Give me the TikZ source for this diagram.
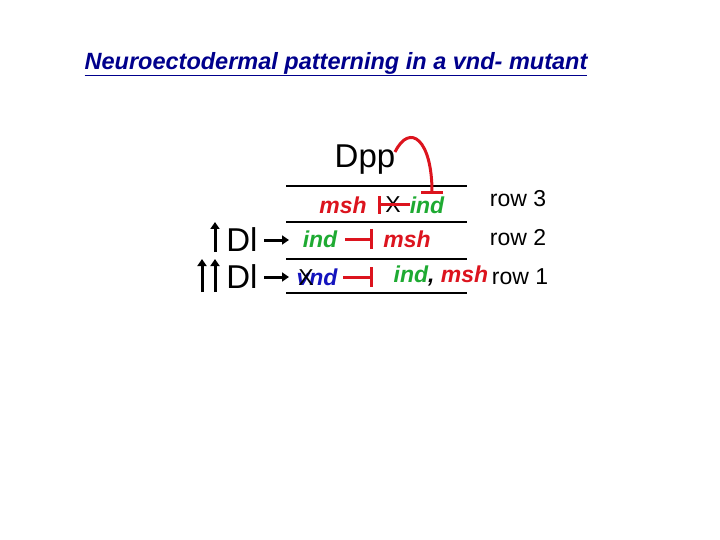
\documentclass[tikz,border=0pt]{standalone}
\usepackage{fontspec}
\setmainfont{Liberation Sans}
\usetikzlibrary{arrows.meta}
\definecolor{tblue}{RGB}{0,0,140}
\definecolor{gr}{RGB}{30,170,50}
\definecolor{rd}{RGB}{220,20,30}
\definecolor{bl}{RGB}{20,20,190}
\begin{document}
\begin{tikzpicture}[x=1pt,y=-1pt,
  t/.style={inner sep=0pt,font=\fontsize{23}{25}\selectfont\bfseries\itshape},
  n/.style={inner sep=0pt,font=\fontsize{23}{25}\selectfont},
  big/.style={inner sep=0pt,font=\fontsize{33}{35}\selectfont},
  inh/.style={rd,line width=3pt,-{Bar[width=22pt,line width=3pt]}},
  act/.style={line width=3pt,-{Triangle[length=7pt,width=9pt]}},
  row/.style={line width=2.5pt}]
\useasboundingbox (0,0) rectangle (720,540);
\node[inner sep=0pt,text=tblue,font=\fontsize{23.5}{25}\selectfont\bfseries\itshape] (title) at (336,64) {\underline{Neuroectodermal patterning in a vnd- mutant}};
\node[big] (dpp) at (365,160) {Dpp};
\foreach \y/\nm in {186/l3,222/l2,259/l1,293/l0}{
  \coordinate (\nm a) at (286,\y); \coordinate (\nm b) at (467,\y);
  \draw[row] (\nm a) -- (\nm b);}
% row 3
\node[t,text=rd] (msh3) at (343,205) {msh};
\node[n] (x3) at (393,205) {X};
\node[t,text=gr] (ind3) at (427,205) {ind};
\coordinate (r3s) at (410,205); \coordinate (r3e) at (378,205);
\draw[inh,-{Bar[width=18pt,line width=3pt]}] (r3s) -- (r3e);
\coordinate (as) at (395,152); \coordinate (ae) at (432,194);
\draw[inh] (as) .. controls (410,122) and (432,140) .. (ae);
% row 2
\node[t,text=gr] (ind2) at (320,239) {ind};
\node[t,text=rd] (msh2) at (407,239) {msh};
\coordinate (r2s) at (345,239); \coordinate (r2e) at (373,239);
\draw[inh,-{Bar[width=20pt,line width=3pt]}] (r2s) -- (r2e);
% row 1
\node[t,text=bl] (vnd) at (317,277) {vnd};
\node[n] (x1) at (306,278) {X};
\node[t] (im) at (441,276) {\textcolor{gr}{ind}, \textcolor{rd}{msh}};
\coordinate (r1s) at (343,277); \coordinate (r1e) at (373,277);
\draw[inh,-{Bar[width=20pt,line width=3pt]}] (r1s) -- (r1e);
% right labels
\node[n] (rw3) at (518,199) {row 3};
\node[n] (rw2) at (518,238) {row 2};
\node[n] (rw1) at (520,277) {row 1};
% left
\node[big] (dl2) at (242,240) {Dl};
\node[big] (dl1) at (242,277) {Dl};
\coordinate (u2a) at (215,252); \coordinate (u2b) at (215,222);
\draw[act] (u2a) -- (u2b);
\coordinate (u1a) at (202,292); \coordinate (u1b) at (202,259);
\coordinate (u0a) at (215,292); \coordinate (u0b) at (215,259);
\draw[act] (u1a) -- (u1b); \draw[act] (u0a) -- (u0b);
\coordinate (h2a) at (264,240); \coordinate (h2b) at (289,240);
\coordinate (h1a) at (264,277); \coordinate (h1b) at (289,277);
\draw[act] (h2a) -- (h2b); \draw[act] (h1a) -- (h1b);
\end{tikzpicture}
\end{document}
